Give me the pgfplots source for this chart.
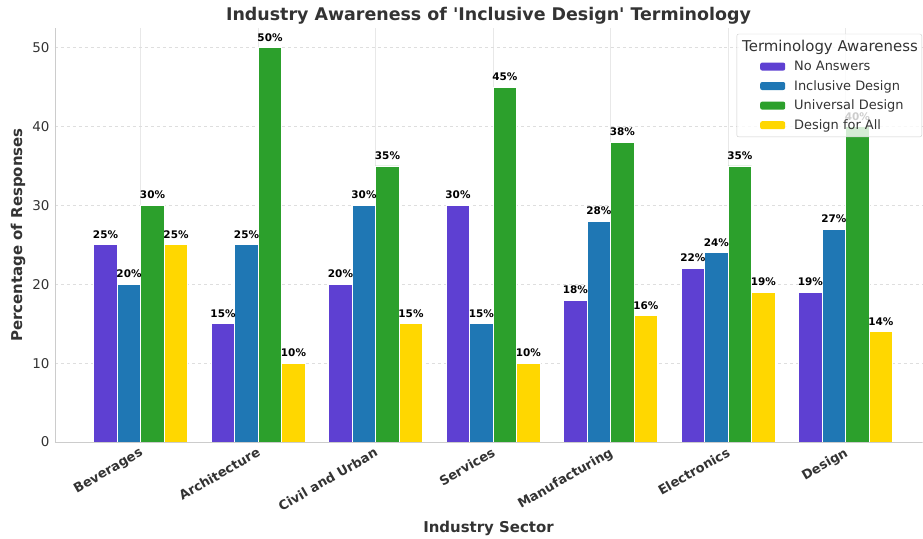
\documentclass[border=0pt]{standalone}
\usepackage{pgfplots}
\pgfplotsset{compat=1.18}
\usepackage{fontspec}
\setmainfont{DejaVu Sans}
\definecolor{cpurple}{HTML}{5E40D2}
\definecolor{cblue}{HTML}{1F77B4}
\definecolor{cgreen}{HTML}{2CA02C}
\definecolor{cyellow}{HTML}{FFD700}
\definecolor{txt}{HTML}{333333}
\begin{document}
\begin{tikzpicture}
\useasboundingbox (0,0) rectangle (923bp,539bp);
\begin{axis}[
  at={(55bp,97bp)}, anchor=south west,
  scale only axis, width=867bp, height=414bp,
  xmin=-0.73, xmax=6.65, ymin=0, ymax=52.5,
  ybar, bar width=0.2,
  xtick={0,1,2,3,4,5,6},
  xticklabels={Beverages,Architecture,Civil and Urban,Services,Manufacturing,Electronics,Design},
  x tick label style={rotate=30, anchor=north east, font=\bfseries\fontsize{13}{15}\selectfont, text=txt, yshift=-1bp, xshift=-2bp, inner sep=2bp},
  ytick={0,10,20,30,40,50},
  y tick label style={font=\fontsize{13.5}{15}\selectfont, text=txt, xshift=-2bp},
  /pgf/number format/assume math mode=true,
  major tick length=0pt,
  axis x line*=bottom, axis y line*=left,
  axis line style={draw=black!20, line width=0.9pt},
  xmajorgrids, ymajorgrids,
  x grid style={draw=black!9, line width=0.6pt},
  y grid style={draw=black!13, dashed, line width=0.5pt},
  title={Industry Awareness of \textquotesingle Inclusive Design\textquotesingle\ Terminology},
  title style={at={(axis description cs:0.5,1.0145)}, anchor=center, font=\bfseries\fontsize{17.5}{20}\selectfont, text=txt},
  xlabel={Industry Sector},
  xlabel style={at={(axis description cs:0.5,-0.2077)}, anchor=center, font=\bfseries\fontsize{15}{17}\selectfont, text=txt},
  ylabel={Percentage of Responses},
  ylabel style={at={(axis description cs:-0.0427,0.5)}, anchor=center, rotate=0, font=\bfseries\fontsize{15}{17}\selectfont, text=txt},
  nodes near coords={\pgfmathprintnumber{\pgfplotspointmeta}\%},
  nodes near coords style={font=\bfseries\fontsize{10.5}{12}\selectfont, text=black, inner sep=2.5bp, yshift=3.5bp},
  every axis plot/.append style={draw=white, line width=0.8pt},
  legend image code/.code={\path (-21bp,0bp); \fill[#1, draw=none, fill opacity=1] (0bp,-4bp) rectangle (25bp,4bp);},
  legend style={at={(1,0.986)}, anchor=north east, fill=white, fill opacity=0.8, text opacity=1, draw=black!20, rounded corners=2pt, font=\fontsize{13}{15}\selectfont, text=txt, row sep=4.3bp, column sep=7bp, inner xsep=2bp, inner ysep=4bp},
  legend cell align=left,
]
\addlegendimage{empty legend}
\addlegendentry{\hspace{-52bp}\fontsize{15}{17}\selectfont Terminology Awareness}
\addplot[fill=cpurple, bar shift=-0.3] coordinates {(0,25) (1,15) (2,20) (3,30) (4,18) (5,22) (6,19)};
\addlegendentry{No Answers}
\addplot[fill=cblue, bar shift=-0.1] coordinates {(0,20) (1,25) (2,30) (3,15) (4,28) (5,24) (6,27)};
\addlegendentry{Inclusive Design}
\addplot[fill=cgreen, bar shift=0.1] coordinates {(0,30) (1,50) (2,35) (3,45) (4,38) (5,35) (6,40)};
\addlegendentry{Universal Design}
\addplot[fill=cyellow, bar shift=0.3] coordinates {(0,25) (1,10) (2,15) (3,10) (4,16) (5,19) (6,14)};
\addlegendentry{Design for All}
\end{axis}
\end{tikzpicture}
\end{document}
